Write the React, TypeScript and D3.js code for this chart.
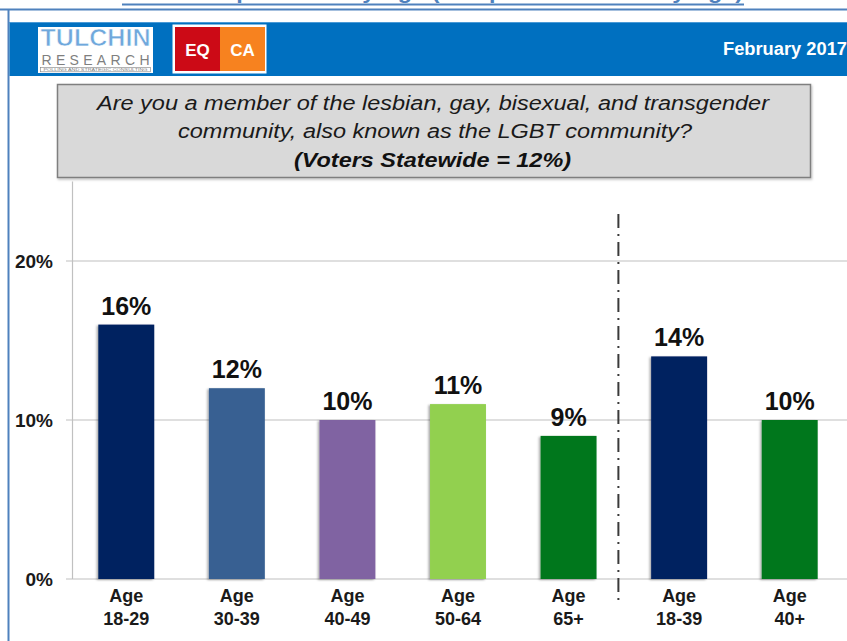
import React, { useEffect } from "react";
import * as d3 from "d3";

const ageGroups = ["18-29", "30-39", "40-49", "50-64", "65+", "18-39", "40+"];
const shares = [16, 12, 10, 11, 9, 14, 10];
const barPalette = ["#002060", "#376092", "#8064a2", "#92d050", "#00771f", "#002060", "#00771f"];
const yTicks = [0, 10, 20];
const questionLines = [
  "Are you a member of the lesbian, gay, bisexual, and transgender",
  "community, also known as the LGBT community?",
];
const statewideNote = "(Voters Statewide = 12%)";
const headerDate = "February 2017";
const topTitle = "LGBT Respondents by Age (Sample Size Varies by Age)";

const W = 847;
const H = 641;
const FONT = "'Liberation Sans', Arial, Helvetica, sans-serif";

export default function App() {
  useEffect(() => {
    document.body.style.margin = "0";
  }, []);

  const x = d3
    .scaleBand<string>()
    .domain(ageGroups)
    .range([71, 845])
    .paddingInner(0.494)
    .paddingOuter(0.247);
  const y = d3.scaleLinear().domain([0, 25]).range([579, 181.5]);
  const bw = x.bandwidth();

  const gapStart = (x(ageGroups[4]) as number) + bw;
  const gapEnd = x(ageGroups[5]) as number;
  const dividerX = gapStart + (gapEnd - gapStart) * 0.4;

  return (
    <svg
      width={W}
      height={H}
      style={{ position: "absolute", left: 0, top: 0, display: "block", background: "#fff" }}
      fontFamily={FONT}
    >
      <defs>
        <filter id="barShadow" x="-20%" y="-5%" width="140%" height="110%">
          <feDropShadow dx={-1.5} dy={1} stdDeviation={1.2} floodColor="#000" floodOpacity={0.35} />
        </filter>
        <filter id="boxShadow" x="-5%" y="-5%" width="110%" height="120%">
          <feDropShadow dx={1} dy={1.5} stdDeviation={1} floodColor="#000" floodOpacity={0.25} />
        </filter>
      </defs>

      {/* clipped title at very top (partly outside the page, as in the reference) */}
      <text
        x={433}
        y={-1}
        textAnchor="middle"
        fontSize={20}
        fontWeight="bold"
        fill="#4f81bd"
        textLength={620}
        lengthAdjust="spacingAndGlyphs"
      >
        {topTitle}
      </text>
      <line x1={122} x2={744} y1={4.5} y2={4.5} stroke="#4f81bd" strokeWidth={2} />

      {/* frame lines */}
      <line x1={0} x2={W} y1={9.5} y2={9.5} stroke="#4f81bd" strokeWidth={1.8} />
      <line x1={8.5} x2={8.5} y1={9} y2={H} stroke="#4f81bd" strokeWidth={2} />

      {/* header band */}
      <rect x={9.5} y={22} width={W - 9.5} height={54} fill="#0070c0" />
      <line x1={9.5} x2={W} y1={22.5} y2={22.5} stroke="#4a9ad6" strokeWidth={1} />
      <text x={723} y={55} fontSize={18} fontWeight="bold" fill="#ffffff" textLength={124} lengthAdjust="spacingAndGlyphs">
        {headerDate}
      </text>

      {/* Tulchin logo */}
      <g>
        <rect x={38} y={27} width={115} height={46} fill="#ffffff" />
        <text
          x={95.5}
          y={46}
          textAnchor="middle"
          fontSize={24}
          fontWeight="bold"
          fill="#6fa8dc"
          stroke="#ffffff"
          strokeWidth={0.6}
          textLength={110}
          lengthAdjust="spacingAndGlyphs"
        >
          TULCHIN
        </text>
        <text
          x={95.5}
          y={65}
          textAnchor="middle"
          fontSize={14}
          fill="#7f7f7f"
          textLength={108}
          lengthAdjust="spacing"
        >
          RESEARCH
        </text>
        <rect x={40.5} y={67.3} width={110} height={4.5} fill="none" stroke="#7f7f7f" strokeWidth={0.6} />
        <text
          x={95.5}
          y={71.2}
          textAnchor="middle"
          fontSize={4}
          fill="#7f7f7f"
          textLength={104}
          lengthAdjust="spacingAndGlyphs"
        >
          POLLING AND STRATEGIC CONSULTING
        </text>
      </g>

      {/* EQCA logo */}
      <g>
        <rect x={172.5} y={24.5} width={94} height={49} fill="#ffffff" />
        <rect x={175} y={27} width={45} height={44} fill="#cc0a16" />
        <rect x={220} y={27} width={45} height={44} fill="#f7821f" />
        <text x={197.5} y={56} textAnchor="middle" fontSize={17} fontWeight="bold" fill="#ffffff">
          EQ
        </text>
        <text x={242.5} y={56} textAnchor="middle" fontSize={17} fontWeight="bold" fill="#ffffff">
          CA
        </text>
      </g>

      {/* question box */}
      <rect
        x={57.5}
        y={84.5}
        width={753}
        height={93}
        fill="#d9d9d9"
        stroke="#7f7f7f"
        strokeWidth={1.5}
        filter="url(#boxShadow)"
      />
      <text
        x={433}
        y={110}
        textAnchor="middle"
        fontSize={20}
        fontStyle="italic"
        fill="#1a1a1a"
        textLength={672}
        lengthAdjust="spacingAndGlyphs"
      >
        {questionLines[0]}
      </text>
      <text
        x={435}
        y={138}
        textAnchor="middle"
        fontSize={20}
        fontStyle="italic"
        fill="#1a1a1a"
        textLength={514}
        lengthAdjust="spacingAndGlyphs"
      >
        {questionLines[1]}
      </text>
      <text
        x={432.5}
        y={167}
        textAnchor="middle"
        fontSize={20}
        fontStyle="italic"
        fontWeight="bold"
        fill="#111"
        textLength={277}
        lengthAdjust="spacingAndGlyphs"
      >
        {statewideNote}
      </text>

      {/* gridlines & y axis */}
      {yTicks.map((t) => (
        <g key={t}>
          <line x1={66} x2={W} y1={y(t)} y2={y(t)} stroke="#c0c0c0" strokeWidth={1.2} />
          <text
            x={53}
            y={y(t)}
            dy="0.35em"
            textAnchor="end"
            fontSize={19}
            fontWeight="bold"
            fill="#1a1a1a"
          >
            {`${t}%`}
          </text>
        </g>
      ))}
      <line x1={72.5} x2={72.5} y1={y(25)} y2={y(0)} stroke="#c0c0c0" strokeWidth={1.2} />

      {/* divider */}
      <line
        x1={dividerX}
        x2={dividerX}
        y1={214}
        y2={600}
        stroke="#3a3a3a"
        strokeWidth={2}
        strokeDasharray="14,6,2,6"
      />

      {/* bars */}
      {ageGroups.map((g, i) => {
        const bx = x(g) as number;
        return (
          <g key={g}>
            <rect
              x={bx}
              y={y(shares[i])}
              width={bw}
              height={y(0) - y(shares[i])}
              fill={barPalette[i]}
              filter="url(#barShadow)"
            />
            <text
              x={bx + bw / 2}
              y={y(shares[i]) - 10}
              textAnchor="middle"
              fontSize={25}
              fontWeight="bold"
              fill="#111"
            >
              {`${shares[i]}%`}
            </text>
            <text
              x={bx + bw / 2}
              y={602}
              textAnchor="middle"
              fontSize={18}
              fontWeight="bold"
              fill="#1a1a1a"
            >
              Age
            </text>
            <text
              x={bx + bw / 2}
              y={625}
              textAnchor="middle"
              fontSize={18}
              fontWeight="bold"
              fill="#1a1a1a"
            >
              {g}
            </text>
          </g>
        );
      })}
    </svg>
  );
}
